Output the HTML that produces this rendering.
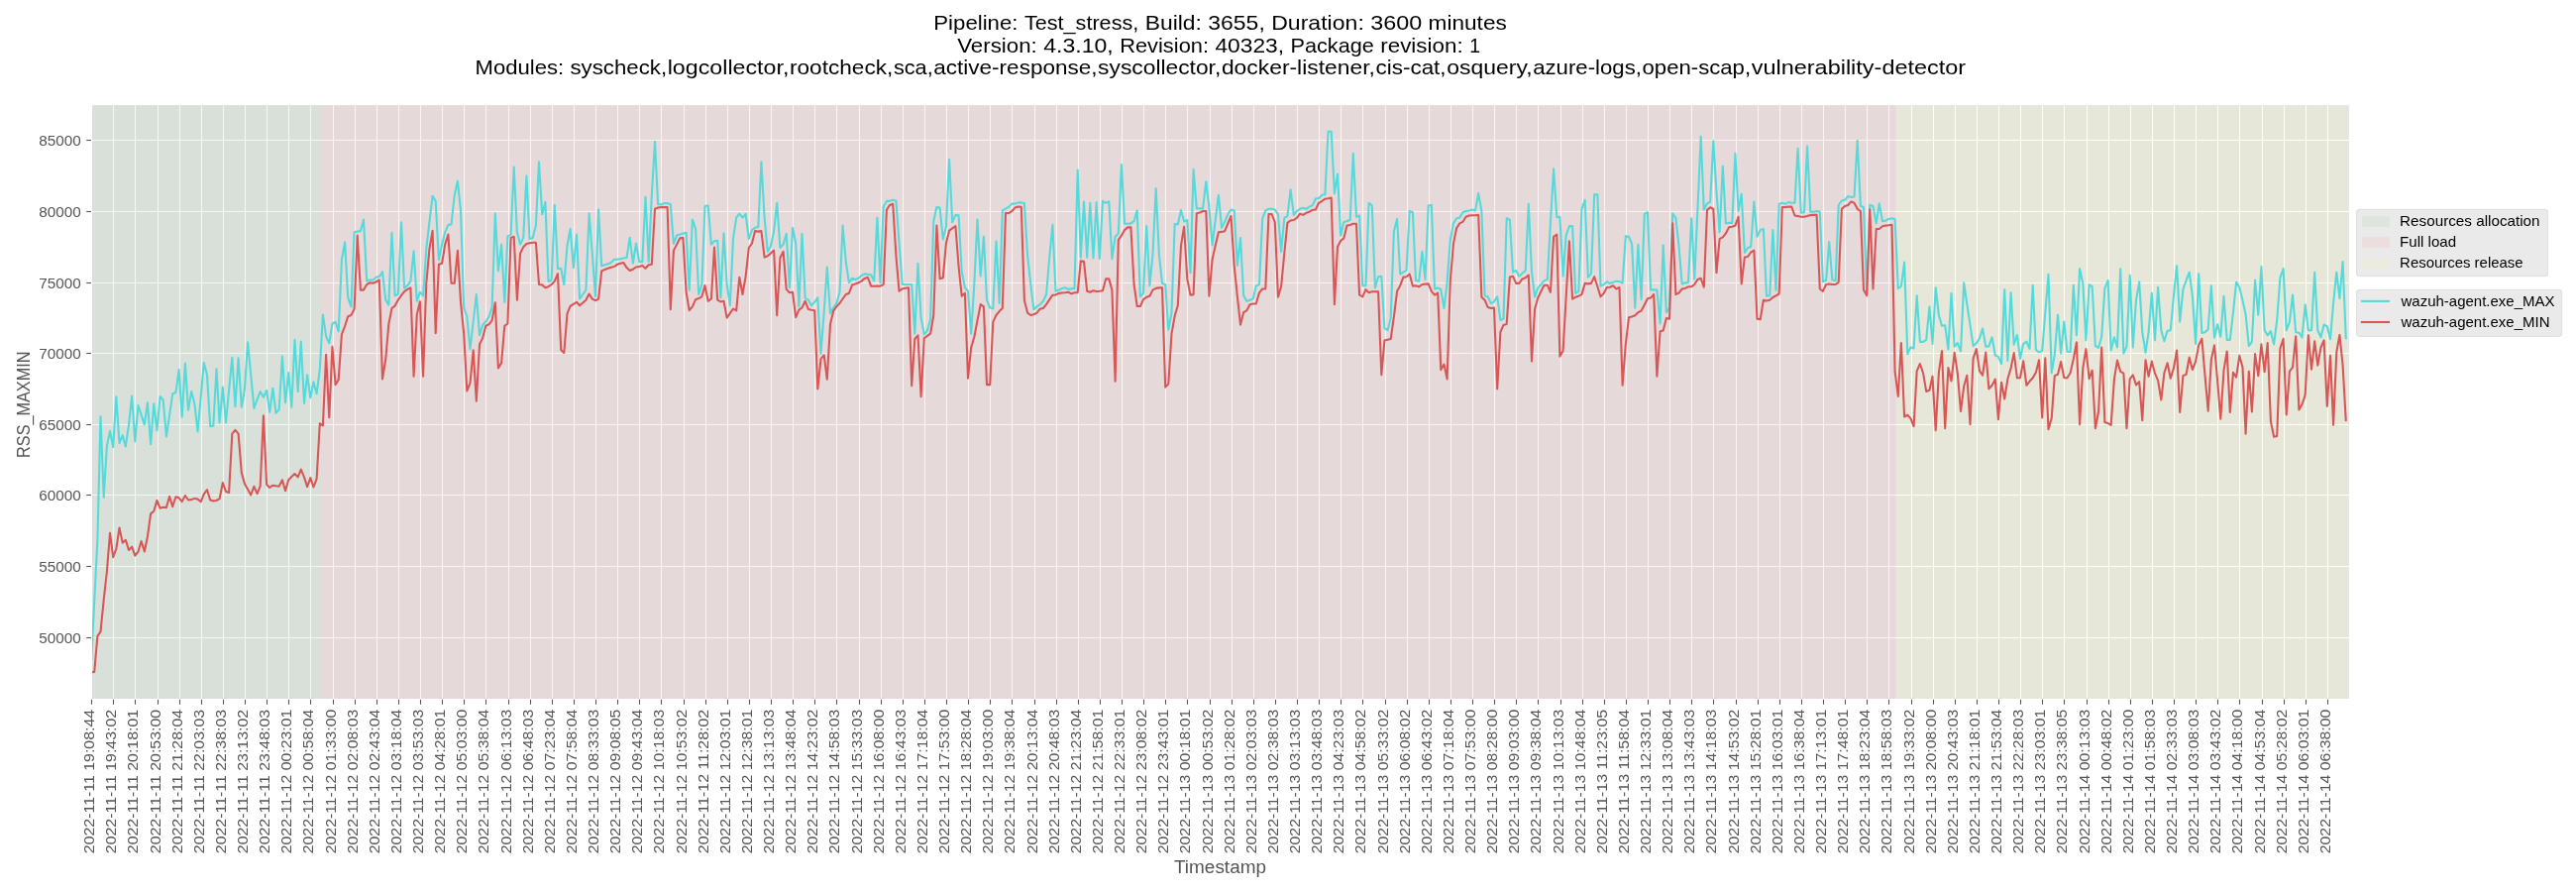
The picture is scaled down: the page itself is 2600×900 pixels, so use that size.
<!DOCTYPE html>
<html><head><meta charset="utf-8"><title>RSS_MAXMIN</title>
<style>
html,body{margin:0;padding:0;background:#fff;}
body{width:2600px;height:900px;overflow:hidden;font-family:"Liberation Sans",sans-serif;}
svg{display:block;}
text{font-family:"Liberation Sans",sans-serif;}
svg{will-change:transform;}
</style></head><body>
<svg width="2600" height="900" viewBox="0 0 2600 900">
<rect x="0" y="0" width="2600" height="900" fill="#ffffff"/>
<rect x="93.05" y="106.15" width="2277.85" height="598.85" fill="#e5e5e5"/>
<g stroke="#ffffff" stroke-width="1.1" fill="none" shape-rendering="auto">
<line x1="114.50" y1="106.15" x2="114.50" y2="705.0"/><line x1="136.50" y1="106.15" x2="136.50" y2="705.0"/><line x1="159.50" y1="106.15" x2="159.50" y2="705.0"/><line x1="181.50" y1="106.15" x2="181.50" y2="705.0"/><line x1="203.50" y1="106.15" x2="203.50" y2="705.0"/><line x1="225.50" y1="106.15" x2="225.50" y2="705.0"/><line x1="247.50" y1="106.15" x2="247.50" y2="705.0"/><line x1="269.50" y1="106.15" x2="269.50" y2="705.0"/><line x1="291.50" y1="106.15" x2="291.50" y2="705.0"/><line x1="313.50" y1="106.15" x2="313.50" y2="705.0"/><line x1="336.50" y1="106.15" x2="336.50" y2="705.0"/><line x1="358.50" y1="106.15" x2="358.50" y2="705.0"/><line x1="380.50" y1="106.15" x2="380.50" y2="705.0"/><line x1="402.50" y1="106.15" x2="402.50" y2="705.0"/><line x1="424.50" y1="106.15" x2="424.50" y2="705.0"/><line x1="446.50" y1="106.15" x2="446.50" y2="705.0"/><line x1="468.50" y1="106.15" x2="468.50" y2="705.0"/><line x1="490.50" y1="106.15" x2="490.50" y2="705.0"/><line x1="513.50" y1="106.15" x2="513.50" y2="705.0"/><line x1="535.50" y1="106.15" x2="535.50" y2="705.0"/><line x1="557.50" y1="106.15" x2="557.50" y2="705.0"/><line x1="579.50" y1="106.15" x2="579.50" y2="705.0"/><line x1="601.50" y1="106.15" x2="601.50" y2="705.0"/><line x1="623.50" y1="106.15" x2="623.50" y2="705.0"/><line x1="645.50" y1="106.15" x2="645.50" y2="705.0"/><line x1="667.50" y1="106.15" x2="667.50" y2="705.0"/><line x1="690.50" y1="106.15" x2="690.50" y2="705.0"/><line x1="712.50" y1="106.15" x2="712.50" y2="705.0"/><line x1="734.50" y1="106.15" x2="734.50" y2="705.0"/><line x1="756.50" y1="106.15" x2="756.50" y2="705.0"/><line x1="778.50" y1="106.15" x2="778.50" y2="705.0"/><line x1="800.50" y1="106.15" x2="800.50" y2="705.0"/><line x1="822.50" y1="106.15" x2="822.50" y2="705.0"/><line x1="844.50" y1="106.15" x2="844.50" y2="705.0"/><line x1="867.50" y1="106.15" x2="867.50" y2="705.0"/><line x1="889.50" y1="106.15" x2="889.50" y2="705.0"/><line x1="911.50" y1="106.15" x2="911.50" y2="705.0"/><line x1="933.50" y1="106.15" x2="933.50" y2="705.0"/><line x1="955.50" y1="106.15" x2="955.50" y2="705.0"/><line x1="977.50" y1="106.15" x2="977.50" y2="705.0"/><line x1="999.50" y1="106.15" x2="999.50" y2="705.0"/><line x1="1021.50" y1="106.15" x2="1021.50" y2="705.0"/><line x1="1044.50" y1="106.15" x2="1044.50" y2="705.0"/><line x1="1066.50" y1="106.15" x2="1066.50" y2="705.0"/><line x1="1088.50" y1="106.15" x2="1088.50" y2="705.0"/><line x1="1110.50" y1="106.15" x2="1110.50" y2="705.0"/><line x1="1132.50" y1="106.15" x2="1132.50" y2="705.0"/><line x1="1154.50" y1="106.15" x2="1154.50" y2="705.0"/><line x1="1176.50" y1="106.15" x2="1176.50" y2="705.0"/><line x1="1198.50" y1="106.15" x2="1198.50" y2="705.0"/><line x1="1221.50" y1="106.15" x2="1221.50" y2="705.0"/><line x1="1243.50" y1="106.15" x2="1243.50" y2="705.0"/><line x1="1265.50" y1="106.15" x2="1265.50" y2="705.0"/><line x1="1287.50" y1="106.15" x2="1287.50" y2="705.0"/><line x1="1309.50" y1="106.15" x2="1309.50" y2="705.0"/><line x1="1331.50" y1="106.15" x2="1331.50" y2="705.0"/><line x1="1353.50" y1="106.15" x2="1353.50" y2="705.0"/><line x1="1375.50" y1="106.15" x2="1375.50" y2="705.0"/><line x1="1398.50" y1="106.15" x2="1398.50" y2="705.0"/><line x1="1420.50" y1="106.15" x2="1420.50" y2="705.0"/><line x1="1442.50" y1="106.15" x2="1442.50" y2="705.0"/><line x1="1464.50" y1="106.15" x2="1464.50" y2="705.0"/><line x1="1486.50" y1="106.15" x2="1486.50" y2="705.0"/><line x1="1508.50" y1="106.15" x2="1508.50" y2="705.0"/><line x1="1530.50" y1="106.15" x2="1530.50" y2="705.0"/><line x1="1552.50" y1="106.15" x2="1552.50" y2="705.0"/><line x1="1575.50" y1="106.15" x2="1575.50" y2="705.0"/><line x1="1597.50" y1="106.15" x2="1597.50" y2="705.0"/><line x1="1619.50" y1="106.15" x2="1619.50" y2="705.0"/><line x1="1641.50" y1="106.15" x2="1641.50" y2="705.0"/><line x1="1663.50" y1="106.15" x2="1663.50" y2="705.0"/><line x1="1685.50" y1="106.15" x2="1685.50" y2="705.0"/><line x1="1707.50" y1="106.15" x2="1707.50" y2="705.0"/><line x1="1729.50" y1="106.15" x2="1729.50" y2="705.0"/><line x1="1752.50" y1="106.15" x2="1752.50" y2="705.0"/><line x1="1774.50" y1="106.15" x2="1774.50" y2="705.0"/><line x1="1796.50" y1="106.15" x2="1796.50" y2="705.0"/><line x1="1818.50" y1="106.15" x2="1818.50" y2="705.0"/><line x1="1840.50" y1="106.15" x2="1840.50" y2="705.0"/><line x1="1862.50" y1="106.15" x2="1862.50" y2="705.0"/><line x1="1884.50" y1="106.15" x2="1884.50" y2="705.0"/><line x1="1906.50" y1="106.15" x2="1906.50" y2="705.0"/><line x1="1929.50" y1="106.15" x2="1929.50" y2="705.0"/><line x1="1951.50" y1="106.15" x2="1951.50" y2="705.0"/><line x1="1973.50" y1="106.15" x2="1973.50" y2="705.0"/><line x1="1995.50" y1="106.15" x2="1995.50" y2="705.0"/><line x1="2017.50" y1="106.15" x2="2017.50" y2="705.0"/><line x1="2039.50" y1="106.15" x2="2039.50" y2="705.0"/><line x1="2061.50" y1="106.15" x2="2061.50" y2="705.0"/><line x1="2083.50" y1="106.15" x2="2083.50" y2="705.0"/><line x1="2106.50" y1="106.15" x2="2106.50" y2="705.0"/><line x1="2128.50" y1="106.15" x2="2128.50" y2="705.0"/><line x1="2150.50" y1="106.15" x2="2150.50" y2="705.0"/><line x1="2172.50" y1="106.15" x2="2172.50" y2="705.0"/><line x1="2194.50" y1="106.15" x2="2194.50" y2="705.0"/><line x1="2216.50" y1="106.15" x2="2216.50" y2="705.0"/><line x1="2238.50" y1="106.15" x2="2238.50" y2="705.0"/><line x1="2260.50" y1="106.15" x2="2260.50" y2="705.0"/><line x1="2283.50" y1="106.15" x2="2283.50" y2="705.0"/><line x1="2305.50" y1="106.15" x2="2305.50" y2="705.0"/><line x1="2327.50" y1="106.15" x2="2327.50" y2="705.0"/><line x1="2349.50" y1="106.15" x2="2349.50" y2="705.0"/><line x1="93.05" y1="643.50" x2="2370.9" y2="643.50"/><line x1="93.05" y1="571.50" x2="2370.9" y2="571.50"/><line x1="93.05" y1="499.50" x2="2370.9" y2="499.50"/><line x1="93.05" y1="428.50" x2="2370.9" y2="428.50"/><line x1="93.05" y1="356.50" x2="2370.9" y2="356.50"/><line x1="93.05" y1="285.50" x2="2370.9" y2="285.50"/><line x1="93.05" y1="213.50" x2="2370.9" y2="213.50"/><line x1="93.05" y1="141.50" x2="2370.9" y2="141.50"/>
</g>
<rect x="93.05" y="106.15" width="230.35" height="598.85" fill="#008000" fill-opacity="0.05"/>
<rect x="323.4" y="106.15" width="1590.00" height="598.85" fill="#ff0000" fill-opacity="0.05"/>
<rect x="1913.4" y="106.15" width="455.20" height="598.85" fill="#ffff00" fill-opacity="0.05"/>
<clipPath id="cp"><rect x="93.05" y="106.15" width="2277.85" height="598.85"/></clipPath>
<g clip-path="url(#cp)">
<polyline points="92.0,670.0 95.2,607.0 98.4,544.6 101.5,420.4 104.7,501.6 107.9,450.0 111.0,435.0 114.2,451.1 117.3,400.2 120.5,447.1 123.7,439.2 126.8,450.5 130.0,428.7 133.1,399.5 136.3,445.5 139.5,409.0 142.6,418.6 145.8,428.3 148.9,406.3 152.1,448.2 155.3,407.4 158.4,434.3 161.6,400.0 164.7,403.6 167.9,440.4 171.1,418.8 174.2,397.3 177.4,396.2 180.6,373.1 183.7,420.8 186.9,366.6 190.0,413.7 193.2,395.1 196.4,407.4 199.5,435.4 202.7,400.7 205.8,365.9 209.0,378.2 212.2,430.3 215.3,429.8 218.5,372.2 221.6,426.5 224.8,390.6 228.0,426.5 231.1,393.9 234.3,360.7 237.4,410.3 240.6,361.4 243.8,410.8 246.9,392.8 250.1,345.3 253.2,378.2 256.4,411.9 259.6,402.9 262.7,395.1 265.9,400.7 269.1,393.9 272.2,415.9 275.4,391.7 278.5,416.8 281.7,413.0 284.9,359.6 288.0,406.3 291.2,376.0 294.3,410.8 297.5,342.8 300.7,395.1 303.8,344.6 307.0,406.9 310.1,378.2 313.3,401.3 316.5,385.4 319.6,397.3 322.8,372.6 325.9,317.6 329.1,339.2 332.3,346.3 335.4,326.7 338.6,324.8 341.7,334.5 344.9,262.3 348.1,244.3 351.2,300.4 354.4,309.4 357.6,234.3 360.7,233.6 363.9,233.1 367.0,221.5 370.2,283.6 373.4,282.5 376.5,282.5 379.7,279.8 382.8,279.1 386.0,274.2 389.2,302.6 392.3,307.6 395.5,234.7 398.6,298.2 401.8,297.0 405.0,224.2 408.1,290.8 411.3,288.1 414.4,283.6 417.6,253.3 420.8,303.8 423.9,294.8 427.1,298.2 430.2,252.2 433.4,224.2 436.6,197.7 439.7,202.9 442.9,262.3 446.1,246.6 449.2,234.3 452.4,226.9 455.5,226.4 458.7,197.3 461.9,182.7 465.0,213.0 468.2,310.5 471.3,319.5 474.5,352.1 477.7,324.5 480.8,297.0 484.0,338.1 487.1,328.0 490.3,324.5 493.5,319.5 496.6,310.2 499.8,215.2 502.9,273.5 506.1,246.6 509.3,304.9 512.4,238.7 515.6,236.5 518.7,168.6 521.9,234.3 525.1,246.6 528.2,239.9 531.4,177.5 534.5,241.0 537.7,239.9 540.9,227.5 544.0,163.2 547.2,216.3 550.4,204.0 553.5,284.3 556.7,282.5 559.8,206.9 563.0,271.3 566.2,270.8 569.3,287.0 572.5,247.7 575.6,230.9 578.8,270.1 582.0,236.5 585.1,301.5 588.3,297.0 591.4,292.6 594.6,215.2 597.8,255.6 600.9,299.3 604.1,211.2 607.2,268.3 610.4,267.2 613.6,266.3 616.7,265.0 619.9,261.8 623.0,261.8 626.2,261.2 629.4,260.5 632.5,260.0 635.7,239.9 638.9,265.7 642.0,245.5 645.2,264.1 648.3,264.1 651.5,198.8 654.7,263.9 657.8,197.3 661.0,142.8 664.1,206.2 667.3,206.2 670.5,205.1 673.6,205.1 676.8,206.2 679.9,245.9 683.1,237.6 686.3,236.5 689.4,235.4 692.6,234.7 695.7,292.6 698.9,221.5 702.1,230.9 705.2,297.0 708.4,287.0 711.5,208.0 714.7,207.4 717.9,246.6 721.0,243.2 724.2,242.8 727.4,300.4 730.5,235.4 733.7,287.0 736.8,308.3 740.0,241.0 743.2,219.7 746.3,215.7 749.5,219.7 752.6,215.9 755.8,241.0 759.0,232.0 762.1,229.8 765.3,229.1 768.4,163.2 771.6,219.7 774.8,253.8 777.9,248.8 781.1,233.1 784.2,204.7 787.4,250.0 790.6,246.6 793.7,235.8 796.9,290.3 800.0,229.8 803.2,245.5 806.4,309.4 809.5,235.8 812.7,300.9 815.9,302.6 819.0,308.3 822.2,304.9 825.3,300.4 828.5,356.8 831.7,314.8 834.8,269.5 838.0,316.1 841.1,310.5 844.3,306.0 847.5,294.8 850.6,227.5 853.8,264.5 856.9,285.2 860.1,280.7 863.3,282.0 866.4,280.7 869.6,278.0 872.7,276.4 875.9,276.9 879.1,277.3 882.2,283.6 885.4,219.7 888.5,285.2 891.7,208.5 894.9,202.9 898.0,202.9 901.2,201.7 904.4,202.4 907.5,245.0 910.7,287.0 913.8,287.0 917.0,287.0 920.2,287.0 923.3,336.6 926.5,265.7 929.6,320.6 932.8,337.4 936.0,333.5 939.1,322.6 942.3,223.0 945.4,209.1 948.6,209.6 951.8,241.4 954.9,228.7 958.1,160.9 961.2,224.2 964.4,217.0 967.6,217.4 970.7,273.5 973.9,290.3 977.0,293.7 980.2,336.6 983.4,285.3 986.5,221.5 989.7,278.4 992.9,238.7 996.0,302.6 999.2,310.5 1002.3,311.2 1005.5,243.2 1008.7,306.0 1011.8,212.5 1015.0,210.7 1018.1,208.9 1021.3,205.6 1024.5,205.6 1027.6,204.4 1030.8,204.4 1033.9,205.1 1037.1,257.8 1040.3,287.0 1043.4,312.1 1046.6,309.4 1049.7,307.1 1052.9,303.8 1056.1,297.0 1059.2,260.0 1062.4,226.9 1065.5,293.7 1068.7,292.6 1071.9,291.0 1075.0,290.3 1078.2,291.9 1081.4,291.4 1084.5,291.0 1087.7,171.5 1090.8,259.6 1094.0,203.5 1097.2,259.6 1100.3,204.7 1103.5,260.5 1106.6,204.0 1109.8,261.2 1113.0,202.9 1116.1,204.8 1119.3,203.4 1122.4,261.3 1125.6,238.8 1128.8,235.5 1131.9,166.0 1135.1,225.8 1138.2,225.8 1141.4,225.4 1144.6,223.1 1147.7,212.4 1150.9,299.4 1154.0,296.0 1157.2,228.1 1160.4,288.2 1163.5,256.8 1166.7,190.2 1169.9,256.8 1173.0,285.9 1176.2,287.0 1179.3,332.7 1182.5,315.6 1185.7,225.8 1188.8,226.5 1192.0,211.9 1195.1,223.6 1198.3,222.0 1201.5,275.2 1204.6,171.1 1207.8,210.4 1210.9,210.4 1214.1,210.4 1217.3,183.2 1220.4,209.7 1223.6,247.4 1226.7,222.0 1229.9,196.9 1233.1,229.9 1236.2,223.6 1239.4,216.0 1242.5,211.5 1245.7,212.4 1248.9,268.0 1252.0,240.0 1255.2,298.3 1258.4,303.9 1261.5,302.7 1264.7,301.6 1267.8,288.6 1271.0,287.0 1274.2,220.9 1277.3,212.4 1280.5,210.8 1283.6,210.8 1286.8,211.5 1290.0,216.4 1293.1,253.9 1296.3,219.8 1299.4,218.2 1302.6,191.3 1305.8,216.9 1308.9,213.0 1312.1,210.8 1315.2,209.7 1318.4,210.8 1321.6,208.6 1324.7,207.4 1327.9,200.3 1331.0,200.3 1334.2,196.7 1337.4,196.2 1340.5,132.8 1343.7,132.8 1346.9,195.1 1350.0,175.6 1353.2,237.7 1356.3,224.3 1359.5,223.1 1362.7,222.0 1365.8,154.8 1369.0,218.7 1372.1,217.5 1375.3,288.2 1378.5,288.2 1381.6,204.8 1384.8,207.4 1387.9,290.4 1391.1,279.2 1394.3,278.7 1397.4,331.1 1400.6,333.2 1403.7,321.1 1406.9,233.2 1410.1,220.9 1413.2,276.5 1416.4,274.7 1419.5,272.9 1422.7,213.0 1425.9,214.2 1429.0,283.0 1432.2,283.7 1435.4,253.9 1438.5,281.9 1441.7,207.4 1444.8,206.8 1448.0,291.5 1451.2,290.4 1454.3,292.0 1457.5,311.0 1460.6,284.8 1463.8,242.2 1467.0,225.4 1470.1,220.2 1473.3,219.8 1476.4,214.2 1479.6,213.0 1482.8,212.4 1485.9,211.5 1489.1,212.4 1492.2,195.1 1495.4,213.0 1498.6,298.3 1501.7,299.4 1504.9,306.1 1508.0,304.3 1511.2,299.4 1514.4,322.9 1517.5,321.8 1520.7,220.2 1523.9,222.0 1527.0,274.7 1530.2,272.9 1533.3,278.7 1536.5,275.8 1539.7,273.1 1542.8,205.9 1546.0,274.7 1549.1,299.4 1552.3,290.4 1555.5,287.0 1558.6,283.2 1561.8,281.9 1564.9,225.4 1568.1,170.4 1571.3,219.1 1574.4,218.7 1577.6,278.7 1580.7,237.7 1583.9,228.1 1587.1,228.1 1590.2,296.0 1593.4,293.8 1596.5,210.8 1599.7,201.8 1602.9,279.6 1606.0,275.8 1609.2,196.2 1612.4,196.2 1615.5,288.6 1618.7,287.0 1621.8,284.3 1625.0,285.9 1628.2,284.8 1631.3,283.7 1634.5,284.1 1637.6,285.5 1640.8,238.4 1644.0,238.8 1647.1,246.0 1650.3,310.6 1653.4,246.7 1656.6,302.1 1659.8,216.0 1662.9,214.2 1666.1,292.6 1669.2,292.2 1672.4,292.6 1675.6,326.5 1678.7,247.4 1681.9,315.1 1685.0,310.6 1688.2,215.3 1691.4,219.8 1694.5,247.8 1697.7,286.4 1700.9,285.5 1704.0,284.8 1707.2,220.2 1710.3,281.4 1713.5,209.7 1716.7,137.9 1719.8,211.5 1723.0,205.2 1726.1,204.1 1729.3,142.4 1732.5,194.0 1735.6,234.3 1738.8,167.8 1741.9,225.4 1745.1,224.7 1748.3,224.9 1751.4,154.8 1754.6,213.0 1757.7,195.8 1760.9,255.0 1764.1,250.0 1767.2,248.9 1770.4,203.6 1773.5,238.8 1776.7,232.1 1779.9,231.0 1783.0,298.7 1786.2,298.3 1789.4,232.1 1792.5,292.6 1795.7,205.7 1798.8,204.8 1802.0,205.7 1805.2,204.1 1808.3,204.8 1811.5,204.8 1814.6,149.8 1817.8,214.6 1821.0,214.2 1824.1,147.6 1827.3,213.7 1830.4,213.7 1833.6,213.0 1836.8,213.7 1839.9,284.1 1843.1,283.0 1846.2,244.0 1849.4,282.6 1852.6,283.2 1855.7,207.0 1858.9,202.5 1862.0,201.8 1865.2,198.0 1868.4,198.9 1871.5,198.5 1874.7,142.0 1877.9,207.9 1881.0,209.0 1884.2,296.0 1887.3,206.8 1890.5,207.9 1893.7,225.4 1896.8,205.2 1900.0,223.1 1903.1,222.7 1906.3,220.9 1909.5,220.2 1912.6,221.2 1915.8,291.3 1918.9,288.8 1922.1,264.6 1925.3,357.1 1928.4,350.4 1931.6,351.4 1934.7,298.3 1937.9,344.9 1941.1,344.9 1944.2,342.9 1947.4,309.6 1950.5,347.0 1953.7,290.2 1956.9,318.1 1960.0,328.8 1963.2,328.2 1966.4,352.4 1969.5,295.9 1972.7,349.8 1975.8,346.0 1979.0,354.4 1982.2,285.4 1985.3,306.6 1988.5,327.8 1991.6,349.0 1994.8,346.4 1998.0,341.3 2001.1,331.6 2004.3,349.8 2007.4,349.4 2010.6,340.3 2013.8,358.5 2016.9,359.9 2020.1,367.1 2023.2,292.3 2026.4,363.9 2029.6,295.3 2032.7,347.8 2035.9,337.9 2039.0,361.9 2042.2,347.0 2045.4,344.7 2048.5,351.8 2051.7,287.8 2054.9,353.0 2058.0,355.4 2061.2,354.0 2064.3,315.5 2067.5,276.7 2070.7,376.3 2073.8,357.5 2077.0,317.7 2080.1,356.4 2083.3,324.6 2086.5,355.0 2089.6,355.0 2092.8,287.8 2095.9,338.3 2099.1,271.1 2102.3,285.8 2105.4,343.3 2108.6,287.2 2111.7,289.2 2114.9,349.0 2118.1,350.8 2121.2,339.7 2124.4,290.9 2127.6,282.8 2130.7,353.4 2133.9,340.3 2137.0,350.4 2140.2,271.3 2143.4,356.4 2146.5,349.8 2149.7,277.7 2152.8,350.4 2156.0,303.0 2159.2,284.4 2162.3,335.3 2165.5,355.8 2168.6,335.3 2171.8,295.9 2175.0,343.3 2178.1,289.8 2181.3,333.2 2184.4,344.3 2187.6,333.8 2190.8,333.2 2193.9,298.9 2197.1,268.3 2200.2,324.6 2203.4,291.9 2206.6,282.8 2209.7,274.7 2212.9,298.9 2216.1,347.0 2219.2,276.3 2222.4,335.9 2225.5,335.3 2228.7,332.2 2231.9,288.4 2235.0,340.7 2238.2,327.2 2241.3,339.7 2244.5,298.9 2247.7,342.9 2250.8,342.9 2254.0,315.1 2257.1,284.8 2260.3,289.8 2263.5,303.0 2266.6,317.1 2269.8,349.0 2272.9,344.9 2276.1,282.8 2279.3,317.7 2282.4,269.1 2285.6,333.2 2288.7,338.3 2291.9,334.2 2295.1,347.4 2298.2,323.1 2301.4,279.8 2304.6,271.1 2307.7,333.2 2310.9,325.2 2314.0,297.5 2317.2,335.3 2320.4,335.7 2323.5,340.3 2326.7,307.4 2329.8,333.2 2333.0,333.2 2336.2,274.7 2339.3,333.2 2342.5,340.3 2345.6,327.6 2348.8,329.2 2352.0,342.3 2355.1,306.0 2358.3,274.7 2361.4,300.9 2364.6,264.0 2367.8,342.3" fill="none" stroke="#54dada" stroke-width="2.08" stroke-linejoin="round" stroke-linecap="butt"/>
<polyline points="92.0,678.3 95.2,677.9 98.4,641.8 101.5,637.3 104.7,605.4 107.9,576.3 111.0,537.7 114.2,562.1 117.3,553.8 120.5,532.5 123.7,547.6 126.8,544.9 130.0,555.0 133.1,551.6 136.3,560.6 139.5,556.5 142.6,546.0 145.8,556.5 148.9,541.5 152.1,518.4 155.3,515.7 158.4,504.9 161.6,512.8 164.7,511.7 167.9,512.1 171.1,500.9 174.2,511.2 177.4,501.2 180.6,502.3 183.7,506.1 186.9,500.0 190.0,504.5 193.2,504.1 196.4,502.9 199.5,503.6 202.7,506.3 205.8,498.7 209.0,494.2 212.2,504.5 215.3,505.4 218.5,505.0 221.6,503.2 224.8,487.0 228.0,496.0 231.1,497.1 234.3,437.7 237.4,433.9 240.6,437.7 243.8,476.9 246.9,488.1 250.1,493.8 253.2,499.4 256.4,490.8 259.6,498.2 262.7,490.4 265.9,419.3 269.1,488.8 272.2,492.0 275.4,489.7 278.5,490.2 281.7,490.6 284.9,484.3 288.0,495.3 291.2,484.3 294.3,481.0 297.5,478.0 300.7,481.4 303.8,473.6 307.0,481.4 310.1,491.1 313.3,482.1 316.5,491.5 319.6,483.2 322.8,427.2 325.9,429.5 329.1,357.8 332.3,421.2 335.4,349.9 338.6,388.2 341.7,382.9 344.9,337.4 348.1,329.0 351.2,319.2 354.4,318.1 357.6,311.8 360.7,237.6 363.9,292.6 367.0,292.6 370.2,287.0 373.4,285.2 376.5,285.8 379.7,284.3 382.8,282.5 386.0,382.4 389.2,363.0 392.3,327.3 395.5,311.0 398.6,308.6 401.8,302.7 405.0,298.2 408.1,294.1 411.3,291.9 414.4,290.3 417.6,379.8 420.8,317.2 423.9,304.3 427.1,379.8 430.2,287.0 433.4,251.1 436.6,232.7 439.7,336.3 442.9,266.8 446.1,265.7 449.2,246.6 452.4,236.5 455.5,285.8 458.7,285.8 461.9,252.9 465.0,304.9 468.2,336.6 471.3,394.5 474.5,386.3 477.7,353.4 480.8,404.6 484.0,347.5 487.1,341.2 490.3,328.8 493.5,327.3 496.6,323.4 499.8,305.2 502.9,371.5 506.1,366.1 509.3,328.8 512.4,326.5 515.6,239.9 518.7,238.7 521.9,302.6 525.1,255.6 528.2,249.3 531.4,246.1 534.5,245.2 537.7,244.8 540.9,244.8 544.0,287.0 547.2,287.4 550.4,290.3 553.5,289.2 556.7,287.0 559.8,283.6 563.0,276.2 566.2,352.9 569.3,356.0 572.5,316.4 575.6,308.9 578.8,306.8 582.0,304.8 585.1,308.3 588.3,305.5 591.4,302.7 594.6,296.5 597.8,301.6 600.9,303.2 604.1,301.6 607.2,273.5 610.4,271.9 613.6,270.8 616.7,269.7 619.9,269.0 623.0,266.8 626.2,265.7 629.4,265.0 632.5,270.1 635.7,273.0 638.9,271.7 642.0,269.5 645.2,269.0 648.3,267.9 651.5,270.8 654.7,267.2 657.8,266.8 661.0,210.7 664.1,209.6 667.3,208.9 670.5,209.1 673.6,209.1 676.8,312.1 679.9,252.9 683.1,246.6 686.3,240.3 689.4,239.9 692.6,294.8 695.7,313.2 698.9,309.4 702.1,302.2 705.2,301.1 708.4,299.3 711.5,288.1 714.7,303.8 717.9,301.5 721.0,249.5 724.2,302.6 727.4,304.4 730.5,303.8 733.7,320.6 736.8,316.1 740.0,311.6 743.2,313.4 746.3,279.8 749.5,297.0 752.6,279.1 755.8,250.0 759.0,245.5 762.1,233.1 765.3,233.6 768.4,233.1 771.6,259.6 774.8,258.3 777.9,255.6 781.1,252.6 784.2,318.3 787.4,260.0 790.6,253.8 793.7,291.9 796.9,295.2 800.0,294.8 803.2,320.1 806.4,312.7 809.5,310.5 812.7,303.8 815.9,312.1 819.0,312.7 822.2,313.2 825.3,392.5 828.5,362.2 831.7,358.3 834.8,382.7 838.0,327.3 841.1,313.9 844.3,309.4 847.5,306.0 850.6,301.5 853.8,297.0 856.9,295.9 860.1,287.6 863.3,286.5 866.4,285.2 869.6,283.6 872.7,280.9 875.9,279.8 879.1,288.7 882.2,288.7 885.4,288.5 888.5,288.7 891.7,287.0 894.9,211.8 898.0,206.9 901.2,205.8 904.4,257.8 907.5,293.7 910.7,291.4 913.8,290.8 917.0,290.3 920.2,389.1 923.3,342.0 926.5,338.4 929.6,400.2 932.8,341.2 936.0,338.9 939.1,336.6 942.3,318.0 945.4,227.5 948.6,281.3 951.8,280.2 954.9,245.5 958.1,232.7 961.2,230.4 964.4,228.0 967.6,269.0 970.7,298.6 973.9,295.9 977.0,381.6 980.2,350.6 983.4,339.7 986.5,323.4 989.7,307.1 992.9,309.4 996.0,388.1 999.2,388.1 1002.3,324.9 1005.5,318.0 1008.7,314.1 1011.8,311.0 1015.0,214.8 1018.1,215.2 1021.3,213.0 1024.5,209.6 1027.6,208.5 1030.8,208.9 1033.9,303.1 1037.1,315.6 1040.3,318.0 1043.4,317.2 1046.6,315.6 1049.7,311.7 1052.9,311.0 1056.1,307.1 1059.2,302.4 1062.4,297.7 1065.5,297.5 1068.7,295.9 1071.9,295.5 1075.0,295.2 1078.2,294.8 1081.4,296.4 1084.5,295.2 1087.7,295.2 1090.8,263.4 1094.0,263.9 1097.2,293.7 1100.3,294.8 1103.5,293.2 1106.6,294.1 1109.8,293.7 1113.0,293.2 1116.1,281.4 1119.3,281.4 1122.4,292.6 1125.6,384.7 1128.8,242.2 1131.9,237.7 1135.1,232.1 1138.2,229.4 1141.4,229.2 1144.6,287.0 1147.7,309.0 1150.9,309.0 1154.0,302.1 1157.2,299.8 1160.4,298.7 1163.5,292.6 1166.7,290.9 1169.9,290.4 1173.0,290.4 1176.2,390.6 1179.3,387.5 1182.5,336.6 1185.7,318.7 1188.8,308.3 1192.0,247.8 1195.1,228.7 1198.3,281.4 1201.5,297.6 1204.6,297.1 1207.8,215.3 1210.9,214.6 1214.1,213.0 1217.3,213.0 1220.4,298.7 1223.6,261.7 1226.7,247.8 1229.9,234.3 1233.1,233.9 1236.2,233.2 1239.4,225.4 1242.5,218.0 1245.7,268.0 1248.9,299.4 1252.0,327.6 1255.2,315.1 1258.4,313.3 1261.5,307.2 1264.7,306.5 1267.8,306.5 1271.0,295.3 1274.2,291.5 1277.3,291.5 1280.5,216.0 1283.6,216.0 1286.8,224.3 1290.0,299.8 1293.1,289.3 1296.3,255.7 1299.4,224.9 1302.6,222.5 1305.8,222.0 1308.9,219.8 1312.1,215.7 1315.2,216.9 1318.4,214.8 1321.6,213.7 1324.7,211.9 1327.9,211.5 1331.0,204.8 1334.2,203.0 1337.4,200.7 1340.5,200.3 1343.7,199.6 1346.9,307.2 1350.0,248.9 1353.2,242.9 1356.3,240.4 1359.5,227.6 1362.7,227.0 1365.8,225.8 1369.0,225.8 1372.1,297.6 1375.3,299.4 1378.5,292.2 1381.6,295.3 1384.8,294.2 1387.9,294.2 1391.1,294.4 1394.3,378.2 1397.4,343.6 1400.6,342.8 1403.7,342.0 1406.9,319.5 1410.1,293.8 1413.2,288.2 1416.4,279.6 1419.5,279.2 1422.7,276.5 1425.9,288.6 1429.0,288.2 1432.2,289.3 1435.4,287.0 1438.5,286.6 1441.7,286.4 1444.8,293.8 1448.0,297.6 1451.2,295.6 1454.3,373.1 1457.5,367.6 1460.6,382.4 1463.8,283.7 1467.0,245.6 1470.1,230.3 1473.3,225.4 1476.4,223.8 1479.6,218.7 1482.8,217.5 1485.9,217.3 1489.1,217.3 1492.2,216.9 1495.4,299.8 1498.6,302.7 1501.7,310.1 1504.9,311.0 1508.0,310.6 1511.2,392.5 1514.4,335.0 1517.5,328.0 1520.7,327.0 1523.9,279.6 1527.0,278.7 1530.2,285.9 1533.3,285.9 1536.5,281.4 1539.7,280.3 1542.8,277.6 1546.0,364.5 1549.1,311.7 1552.3,300.5 1555.5,293.8 1558.6,287.7 1561.8,287.7 1564.9,294.9 1568.1,238.8 1571.3,236.6 1574.4,359.6 1577.6,354.0 1580.7,299.3 1583.9,243.3 1587.1,301.6 1590.2,299.8 1593.4,298.7 1596.5,297.1 1599.7,285.9 1602.9,286.4 1606.0,285.9 1609.2,279.2 1612.4,289.3 1615.5,299.4 1618.7,296.0 1621.8,290.0 1625.0,289.7 1628.2,288.2 1631.3,291.5 1634.5,290.0 1637.6,388.6 1640.8,347.5 1644.0,320.3 1647.1,319.5 1650.3,318.3 1653.4,315.2 1656.6,313.6 1659.8,307.4 1662.9,301.2 1666.1,300.6 1669.2,297.0 1672.4,379.8 1675.6,334.3 1678.7,333.5 1681.9,321.1 1685.0,321.8 1688.2,225.4 1691.4,297.1 1694.5,295.6 1697.7,291.5 1700.9,290.9 1704.0,289.3 1707.2,289.3 1710.3,287.0 1713.5,281.9 1716.7,280.8 1719.8,289.7 1723.0,211.9 1726.1,209.2 1729.3,210.8 1732.5,275.2 1735.6,241.1 1738.8,239.3 1741.9,235.5 1745.1,229.2 1748.3,228.7 1751.4,227.6 1754.6,218.7 1757.7,286.4 1760.9,259.5 1764.1,259.0 1767.2,254.5 1770.4,252.7 1773.5,321.8 1776.7,322.3 1779.9,302.7 1783.0,303.4 1786.2,302.7 1789.4,300.0 1792.5,298.3 1795.7,296.5 1798.8,209.0 1802.0,209.0 1805.2,208.6 1808.3,208.6 1811.5,217.5 1814.6,218.0 1817.8,218.7 1821.0,218.7 1824.1,218.0 1827.3,217.1 1830.4,216.9 1833.6,216.9 1836.8,291.5 1839.9,293.8 1843.1,287.0 1846.2,286.4 1849.4,287.0 1852.6,287.0 1855.7,284.8 1858.9,210.8 1862.0,208.1 1865.2,207.0 1868.4,203.4 1871.5,204.8 1874.7,210.8 1877.9,213.0 1881.0,292.6 1884.2,298.3 1887.3,211.3 1890.5,291.5 1893.7,231.0 1896.8,231.0 1900.0,228.3 1903.1,227.6 1906.3,227.2 1909.5,226.7 1912.6,374.7 1915.8,399.9 1918.9,346.0 1922.1,420.5 1925.3,418.7 1928.4,422.1 1931.6,430.2 1934.7,374.3 1937.9,367.0 1941.1,376.7 1944.2,394.9 1947.4,393.8 1950.5,379.7 1953.7,434.2 1956.9,375.7 1960.0,354.1 1963.2,432.2 1966.4,371.0 1969.5,384.4 1972.7,355.9 1975.8,376.7 1979.0,415.0 1982.2,389.8 1985.3,378.7 1988.5,428.2 1991.6,361.6 1994.8,352.1 1998.0,374.3 2001.1,378.7 2004.3,355.5 2007.4,392.4 2010.6,388.8 2013.8,382.7 2016.9,423.1 2020.1,385.8 2023.2,402.5 2026.4,382.3 2029.6,371.6 2032.7,356.1 2035.9,381.3 2039.0,381.1 2042.2,364.2 2045.4,388.8 2048.5,384.8 2051.7,381.3 2054.9,375.7 2058.0,363.2 2061.2,421.5 2064.3,361.2 2067.5,433.2 2070.7,422.1 2073.8,379.1 2077.0,377.7 2080.1,365.0 2083.3,381.1 2086.5,381.3 2089.6,376.3 2092.8,362.2 2095.9,345.4 2099.1,428.2 2102.3,371.6 2105.4,352.1 2108.6,382.1 2111.7,373.7 2114.9,432.2 2118.1,415.0 2121.2,350.5 2124.4,426.1 2127.6,427.1 2130.7,428.8 2133.9,382.7 2137.0,363.6 2140.2,374.9 2143.4,376.7 2146.5,432.2 2149.7,382.3 2152.8,378.3 2156.0,388.4 2159.2,385.2 2162.3,424.1 2165.5,363.2 2168.6,379.7 2171.8,364.6 2175.0,376.7 2178.1,383.8 2181.3,403.5 2184.4,376.3 2187.6,366.2 2190.8,381.7 2193.9,371.6 2197.1,353.5 2200.2,416.0 2203.4,379.1 2206.6,377.7 2209.7,360.5 2212.9,373.1 2216.1,364.6 2219.2,348.4 2222.4,341.8 2225.5,378.7 2228.7,414.6 2231.9,362.6 2235.0,348.4 2238.2,384.8 2241.3,422.7 2244.5,373.7 2247.7,354.5 2250.8,416.0 2254.0,375.7 2257.1,380.7 2260.3,358.9 2263.5,370.6 2266.6,437.8 2269.8,374.7 2272.9,415.4 2276.1,357.1 2279.3,379.1 2282.4,347.4 2285.6,375.1 2288.7,346.0 2291.9,425.1 2295.1,440.7 2298.2,439.9 2301.4,351.5 2304.6,341.8 2307.7,418.5 2310.9,374.7 2314.0,370.6 2317.2,339.4 2320.4,413.4 2323.5,408.0 2326.7,398.3 2329.8,338.3 2333.0,372.7 2336.2,344.4 2339.3,368.6 2342.5,350.5 2345.6,343.4 2348.8,410.0 2352.0,358.9 2355.1,428.6 2358.3,355.5 2361.4,337.9 2364.6,368.6 2367.8,425.1" fill="none" stroke="#d95656" stroke-width="2.08" stroke-linejoin="round" stroke-linecap="butt"/>
</g>
<g stroke="#555555" stroke-width="1.1">
<line x1="92.50" y1="705.90" x2="92.50" y2="710.70"/><line x1="114.50" y1="705.90" x2="114.50" y2="710.70"/><line x1="136.50" y1="705.90" x2="136.50" y2="710.70"/><line x1="159.50" y1="705.90" x2="159.50" y2="710.70"/><line x1="181.50" y1="705.90" x2="181.50" y2="710.70"/><line x1="203.50" y1="705.90" x2="203.50" y2="710.70"/><line x1="225.50" y1="705.90" x2="225.50" y2="710.70"/><line x1="247.50" y1="705.90" x2="247.50" y2="710.70"/><line x1="269.50" y1="705.90" x2="269.50" y2="710.70"/><line x1="291.50" y1="705.90" x2="291.50" y2="710.70"/><line x1="313.50" y1="705.90" x2="313.50" y2="710.70"/><line x1="336.50" y1="705.90" x2="336.50" y2="710.70"/><line x1="358.50" y1="705.90" x2="358.50" y2="710.70"/><line x1="380.50" y1="705.90" x2="380.50" y2="710.70"/><line x1="402.50" y1="705.90" x2="402.50" y2="710.70"/><line x1="424.50" y1="705.90" x2="424.50" y2="710.70"/><line x1="446.50" y1="705.90" x2="446.50" y2="710.70"/><line x1="468.50" y1="705.90" x2="468.50" y2="710.70"/><line x1="490.50" y1="705.90" x2="490.50" y2="710.70"/><line x1="513.50" y1="705.90" x2="513.50" y2="710.70"/><line x1="535.50" y1="705.90" x2="535.50" y2="710.70"/><line x1="557.50" y1="705.90" x2="557.50" y2="710.70"/><line x1="579.50" y1="705.90" x2="579.50" y2="710.70"/><line x1="601.50" y1="705.90" x2="601.50" y2="710.70"/><line x1="623.50" y1="705.90" x2="623.50" y2="710.70"/><line x1="645.50" y1="705.90" x2="645.50" y2="710.70"/><line x1="667.50" y1="705.90" x2="667.50" y2="710.70"/><line x1="690.50" y1="705.90" x2="690.50" y2="710.70"/><line x1="712.50" y1="705.90" x2="712.50" y2="710.70"/><line x1="734.50" y1="705.90" x2="734.50" y2="710.70"/><line x1="756.50" y1="705.90" x2="756.50" y2="710.70"/><line x1="778.50" y1="705.90" x2="778.50" y2="710.70"/><line x1="800.50" y1="705.90" x2="800.50" y2="710.70"/><line x1="822.50" y1="705.90" x2="822.50" y2="710.70"/><line x1="844.50" y1="705.90" x2="844.50" y2="710.70"/><line x1="867.50" y1="705.90" x2="867.50" y2="710.70"/><line x1="889.50" y1="705.90" x2="889.50" y2="710.70"/><line x1="911.50" y1="705.90" x2="911.50" y2="710.70"/><line x1="933.50" y1="705.90" x2="933.50" y2="710.70"/><line x1="955.50" y1="705.90" x2="955.50" y2="710.70"/><line x1="977.50" y1="705.90" x2="977.50" y2="710.70"/><line x1="999.50" y1="705.90" x2="999.50" y2="710.70"/><line x1="1021.50" y1="705.90" x2="1021.50" y2="710.70"/><line x1="1044.50" y1="705.90" x2="1044.50" y2="710.70"/><line x1="1066.50" y1="705.90" x2="1066.50" y2="710.70"/><line x1="1088.50" y1="705.90" x2="1088.50" y2="710.70"/><line x1="1110.50" y1="705.90" x2="1110.50" y2="710.70"/><line x1="1132.50" y1="705.90" x2="1132.50" y2="710.70"/><line x1="1154.50" y1="705.90" x2="1154.50" y2="710.70"/><line x1="1176.50" y1="705.90" x2="1176.50" y2="710.70"/><line x1="1198.50" y1="705.90" x2="1198.50" y2="710.70"/><line x1="1221.50" y1="705.90" x2="1221.50" y2="710.70"/><line x1="1243.50" y1="705.90" x2="1243.50" y2="710.70"/><line x1="1265.50" y1="705.90" x2="1265.50" y2="710.70"/><line x1="1287.50" y1="705.90" x2="1287.50" y2="710.70"/><line x1="1309.50" y1="705.90" x2="1309.50" y2="710.70"/><line x1="1331.50" y1="705.90" x2="1331.50" y2="710.70"/><line x1="1353.50" y1="705.90" x2="1353.50" y2="710.70"/><line x1="1375.50" y1="705.90" x2="1375.50" y2="710.70"/><line x1="1398.50" y1="705.90" x2="1398.50" y2="710.70"/><line x1="1420.50" y1="705.90" x2="1420.50" y2="710.70"/><line x1="1442.50" y1="705.90" x2="1442.50" y2="710.70"/><line x1="1464.50" y1="705.90" x2="1464.50" y2="710.70"/><line x1="1486.50" y1="705.90" x2="1486.50" y2="710.70"/><line x1="1508.50" y1="705.90" x2="1508.50" y2="710.70"/><line x1="1530.50" y1="705.90" x2="1530.50" y2="710.70"/><line x1="1552.50" y1="705.90" x2="1552.50" y2="710.70"/><line x1="1575.50" y1="705.90" x2="1575.50" y2="710.70"/><line x1="1597.50" y1="705.90" x2="1597.50" y2="710.70"/><line x1="1619.50" y1="705.90" x2="1619.50" y2="710.70"/><line x1="1641.50" y1="705.90" x2="1641.50" y2="710.70"/><line x1="1663.50" y1="705.90" x2="1663.50" y2="710.70"/><line x1="1685.50" y1="705.90" x2="1685.50" y2="710.70"/><line x1="1707.50" y1="705.90" x2="1707.50" y2="710.70"/><line x1="1729.50" y1="705.90" x2="1729.50" y2="710.70"/><line x1="1752.50" y1="705.90" x2="1752.50" y2="710.70"/><line x1="1774.50" y1="705.90" x2="1774.50" y2="710.70"/><line x1="1796.50" y1="705.90" x2="1796.50" y2="710.70"/><line x1="1818.50" y1="705.90" x2="1818.50" y2="710.70"/><line x1="1840.50" y1="705.90" x2="1840.50" y2="710.70"/><line x1="1862.50" y1="705.90" x2="1862.50" y2="710.70"/><line x1="1884.50" y1="705.90" x2="1884.50" y2="710.70"/><line x1="1906.50" y1="705.90" x2="1906.50" y2="710.70"/><line x1="1929.50" y1="705.90" x2="1929.50" y2="710.70"/><line x1="1951.50" y1="705.90" x2="1951.50" y2="710.70"/><line x1="1973.50" y1="705.90" x2="1973.50" y2="710.70"/><line x1="1995.50" y1="705.90" x2="1995.50" y2="710.70"/><line x1="2017.50" y1="705.90" x2="2017.50" y2="710.70"/><line x1="2039.50" y1="705.90" x2="2039.50" y2="710.70"/><line x1="2061.50" y1="705.90" x2="2061.50" y2="710.70"/><line x1="2083.50" y1="705.90" x2="2083.50" y2="710.70"/><line x1="2106.50" y1="705.90" x2="2106.50" y2="710.70"/><line x1="2128.50" y1="705.90" x2="2128.50" y2="710.70"/><line x1="2150.50" y1="705.90" x2="2150.50" y2="710.70"/><line x1="2172.50" y1="705.90" x2="2172.50" y2="710.70"/><line x1="2194.50" y1="705.90" x2="2194.50" y2="710.70"/><line x1="2216.50" y1="705.90" x2="2216.50" y2="710.70"/><line x1="2238.50" y1="705.90" x2="2238.50" y2="710.70"/><line x1="2260.50" y1="705.90" x2="2260.50" y2="710.70"/><line x1="2283.50" y1="705.90" x2="2283.50" y2="710.70"/><line x1="2305.50" y1="705.90" x2="2305.50" y2="710.70"/><line x1="2327.50" y1="705.90" x2="2327.50" y2="710.70"/><line x1="2349.50" y1="705.90" x2="2349.50" y2="710.70"/><line x1="87.30" y1="643.50" x2="91.95" y2="643.50"/><line x1="87.30" y1="571.50" x2="91.95" y2="571.50"/><line x1="87.30" y1="499.50" x2="91.95" y2="499.50"/><line x1="87.30" y1="428.50" x2="91.95" y2="428.50"/><line x1="87.30" y1="356.50" x2="91.95" y2="356.50"/><line x1="87.30" y1="285.50" x2="91.95" y2="285.50"/><line x1="87.30" y1="213.50" x2="91.95" y2="213.50"/><line x1="87.30" y1="141.50" x2="91.95" y2="141.50"/>
</g>
<g fill="#555555" font-size="14.1" text-anchor="end">
<text x="81.7" y="648.90" textLength="42.5" lengthAdjust="spacingAndGlyphs">50000</text><text x="81.7" y="576.90" textLength="42.5" lengthAdjust="spacingAndGlyphs">55000</text><text x="81.7" y="504.90" textLength="42.5" lengthAdjust="spacingAndGlyphs">60000</text><text x="81.7" y="433.90" textLength="42.5" lengthAdjust="spacingAndGlyphs">65000</text><text x="81.7" y="361.90" textLength="42.5" lengthAdjust="spacingAndGlyphs">70000</text><text x="81.7" y="290.90" textLength="42.5" lengthAdjust="spacingAndGlyphs">75000</text><text x="81.7" y="218.90" textLength="42.5" lengthAdjust="spacingAndGlyphs">80000</text><text x="81.7" y="146.90" textLength="42.5" lengthAdjust="spacingAndGlyphs">85000</text>
</g>
<g fill="#555555" font-size="14.1">
<text transform="translate(95.20,861.2) rotate(-90)" textLength="145.4" lengthAdjust="spacingAndGlyphs">2022-11-11 19:08:44</text><text transform="translate(117.20,861.2) rotate(-90)" textLength="145.4" lengthAdjust="spacingAndGlyphs">2022-11-11 19:43:02</text><text transform="translate(139.20,861.2) rotate(-90)" textLength="145.4" lengthAdjust="spacingAndGlyphs">2022-11-11 20:18:01</text><text transform="translate(162.20,861.2) rotate(-90)" textLength="145.4" lengthAdjust="spacingAndGlyphs">2022-11-11 20:53:00</text><text transform="translate(184.20,861.2) rotate(-90)" textLength="145.4" lengthAdjust="spacingAndGlyphs">2022-11-11 21:28:04</text><text transform="translate(206.20,861.2) rotate(-90)" textLength="145.4" lengthAdjust="spacingAndGlyphs">2022-11-11 22:03:03</text><text transform="translate(228.20,861.2) rotate(-90)" textLength="145.4" lengthAdjust="spacingAndGlyphs">2022-11-11 22:38:03</text><text transform="translate(250.20,861.2) rotate(-90)" textLength="145.4" lengthAdjust="spacingAndGlyphs">2022-11-11 23:13:02</text><text transform="translate(272.20,861.2) rotate(-90)" textLength="145.4" lengthAdjust="spacingAndGlyphs">2022-11-11 23:48:03</text><text transform="translate(294.20,861.2) rotate(-90)" textLength="145.4" lengthAdjust="spacingAndGlyphs">2022-11-12 00:23:01</text><text transform="translate(316.20,861.2) rotate(-90)" textLength="145.4" lengthAdjust="spacingAndGlyphs">2022-11-12 00:58:04</text><text transform="translate(339.20,861.2) rotate(-90)" textLength="145.4" lengthAdjust="spacingAndGlyphs">2022-11-12 01:33:00</text><text transform="translate(361.20,861.2) rotate(-90)" textLength="145.4" lengthAdjust="spacingAndGlyphs">2022-11-12 02:08:03</text><text transform="translate(383.20,861.2) rotate(-90)" textLength="145.4" lengthAdjust="spacingAndGlyphs">2022-11-12 02:43:04</text><text transform="translate(405.20,861.2) rotate(-90)" textLength="145.4" lengthAdjust="spacingAndGlyphs">2022-11-12 03:18:04</text><text transform="translate(427.20,861.2) rotate(-90)" textLength="145.4" lengthAdjust="spacingAndGlyphs">2022-11-12 03:53:03</text><text transform="translate(449.20,861.2) rotate(-90)" textLength="145.4" lengthAdjust="spacingAndGlyphs">2022-11-12 04:28:01</text><text transform="translate(471.20,861.2) rotate(-90)" textLength="145.4" lengthAdjust="spacingAndGlyphs">2022-11-12 05:03:00</text><text transform="translate(493.20,861.2) rotate(-90)" textLength="145.4" lengthAdjust="spacingAndGlyphs">2022-11-12 05:38:04</text><text transform="translate(516.20,861.2) rotate(-90)" textLength="145.4" lengthAdjust="spacingAndGlyphs">2022-11-12 06:13:03</text><text transform="translate(538.20,861.2) rotate(-90)" textLength="145.4" lengthAdjust="spacingAndGlyphs">2022-11-12 06:48:03</text><text transform="translate(560.20,861.2) rotate(-90)" textLength="145.4" lengthAdjust="spacingAndGlyphs">2022-11-12 07:23:04</text><text transform="translate(582.20,861.2) rotate(-90)" textLength="145.4" lengthAdjust="spacingAndGlyphs">2022-11-12 07:58:04</text><text transform="translate(604.20,861.2) rotate(-90)" textLength="145.4" lengthAdjust="spacingAndGlyphs">2022-11-12 08:33:03</text><text transform="translate(626.20,861.2) rotate(-90)" textLength="145.4" lengthAdjust="spacingAndGlyphs">2022-11-12 09:08:05</text><text transform="translate(648.20,861.2) rotate(-90)" textLength="145.4" lengthAdjust="spacingAndGlyphs">2022-11-12 09:43:04</text><text transform="translate(670.20,861.2) rotate(-90)" textLength="145.4" lengthAdjust="spacingAndGlyphs">2022-11-12 10:18:03</text><text transform="translate(693.20,861.2) rotate(-90)" textLength="145.4" lengthAdjust="spacingAndGlyphs">2022-11-12 10:53:02</text><text transform="translate(715.20,861.2) rotate(-90)" textLength="145.4" lengthAdjust="spacingAndGlyphs">2022-11-12 11:28:02</text><text transform="translate(737.20,861.2) rotate(-90)" textLength="145.4" lengthAdjust="spacingAndGlyphs">2022-11-12 12:03:01</text><text transform="translate(759.20,861.2) rotate(-90)" textLength="145.4" lengthAdjust="spacingAndGlyphs">2022-11-12 12:38:01</text><text transform="translate(781.20,861.2) rotate(-90)" textLength="145.4" lengthAdjust="spacingAndGlyphs">2022-11-12 13:13:03</text><text transform="translate(803.20,861.2) rotate(-90)" textLength="145.4" lengthAdjust="spacingAndGlyphs">2022-11-12 13:48:04</text><text transform="translate(825.20,861.2) rotate(-90)" textLength="145.4" lengthAdjust="spacingAndGlyphs">2022-11-12 14:23:02</text><text transform="translate(847.20,861.2) rotate(-90)" textLength="145.4" lengthAdjust="spacingAndGlyphs">2022-11-12 14:58:03</text><text transform="translate(870.20,861.2) rotate(-90)" textLength="145.4" lengthAdjust="spacingAndGlyphs">2022-11-12 15:33:03</text><text transform="translate(892.20,861.2) rotate(-90)" textLength="145.4" lengthAdjust="spacingAndGlyphs">2022-11-12 16:08:00</text><text transform="translate(914.20,861.2) rotate(-90)" textLength="145.4" lengthAdjust="spacingAndGlyphs">2022-11-12 16:43:03</text><text transform="translate(936.20,861.2) rotate(-90)" textLength="145.4" lengthAdjust="spacingAndGlyphs">2022-11-12 17:18:04</text><text transform="translate(958.20,861.2) rotate(-90)" textLength="145.4" lengthAdjust="spacingAndGlyphs">2022-11-12 17:53:00</text><text transform="translate(980.20,861.2) rotate(-90)" textLength="145.4" lengthAdjust="spacingAndGlyphs">2022-11-12 18:28:04</text><text transform="translate(1002.20,861.2) rotate(-90)" textLength="145.4" lengthAdjust="spacingAndGlyphs">2022-11-12 19:03:00</text><text transform="translate(1024.20,861.2) rotate(-90)" textLength="145.4" lengthAdjust="spacingAndGlyphs">2022-11-12 19:38:04</text><text transform="translate(1047.20,861.2) rotate(-90)" textLength="145.4" lengthAdjust="spacingAndGlyphs">2022-11-12 20:13:04</text><text transform="translate(1069.20,861.2) rotate(-90)" textLength="145.4" lengthAdjust="spacingAndGlyphs">2022-11-12 20:48:03</text><text transform="translate(1091.20,861.2) rotate(-90)" textLength="145.4" lengthAdjust="spacingAndGlyphs">2022-11-12 21:23:04</text><text transform="translate(1113.20,861.2) rotate(-90)" textLength="145.4" lengthAdjust="spacingAndGlyphs">2022-11-12 21:58:01</text><text transform="translate(1135.20,861.2) rotate(-90)" textLength="145.4" lengthAdjust="spacingAndGlyphs">2022-11-12 22:33:01</text><text transform="translate(1157.20,861.2) rotate(-90)" textLength="145.4" lengthAdjust="spacingAndGlyphs">2022-11-12 23:08:02</text><text transform="translate(1179.20,861.2) rotate(-90)" textLength="145.4" lengthAdjust="spacingAndGlyphs">2022-11-12 23:43:01</text><text transform="translate(1201.20,861.2) rotate(-90)" textLength="145.4" lengthAdjust="spacingAndGlyphs">2022-11-13 00:18:01</text><text transform="translate(1224.20,861.2) rotate(-90)" textLength="145.4" lengthAdjust="spacingAndGlyphs">2022-11-13 00:53:02</text><text transform="translate(1246.20,861.2) rotate(-90)" textLength="145.4" lengthAdjust="spacingAndGlyphs">2022-11-13 01:28:02</text><text transform="translate(1268.20,861.2) rotate(-90)" textLength="145.4" lengthAdjust="spacingAndGlyphs">2022-11-13 02:03:03</text><text transform="translate(1290.20,861.2) rotate(-90)" textLength="145.4" lengthAdjust="spacingAndGlyphs">2022-11-13 02:38:03</text><text transform="translate(1312.20,861.2) rotate(-90)" textLength="145.4" lengthAdjust="spacingAndGlyphs">2022-11-13 03:13:03</text><text transform="translate(1334.20,861.2) rotate(-90)" textLength="145.4" lengthAdjust="spacingAndGlyphs">2022-11-13 03:48:03</text><text transform="translate(1356.20,861.2) rotate(-90)" textLength="145.4" lengthAdjust="spacingAndGlyphs">2022-11-13 04:23:03</text><text transform="translate(1378.20,861.2) rotate(-90)" textLength="145.4" lengthAdjust="spacingAndGlyphs">2022-11-13 04:58:02</text><text transform="translate(1401.20,861.2) rotate(-90)" textLength="145.4" lengthAdjust="spacingAndGlyphs">2022-11-13 05:33:02</text><text transform="translate(1423.20,861.2) rotate(-90)" textLength="145.4" lengthAdjust="spacingAndGlyphs">2022-11-13 06:08:02</text><text transform="translate(1445.20,861.2) rotate(-90)" textLength="145.4" lengthAdjust="spacingAndGlyphs">2022-11-13 06:43:02</text><text transform="translate(1467.20,861.2) rotate(-90)" textLength="145.4" lengthAdjust="spacingAndGlyphs">2022-11-13 07:18:04</text><text transform="translate(1489.20,861.2) rotate(-90)" textLength="145.4" lengthAdjust="spacingAndGlyphs">2022-11-13 07:53:00</text><text transform="translate(1511.20,861.2) rotate(-90)" textLength="145.4" lengthAdjust="spacingAndGlyphs">2022-11-13 08:28:00</text><text transform="translate(1533.20,861.2) rotate(-90)" textLength="145.4" lengthAdjust="spacingAndGlyphs">2022-11-13 09:03:00</text><text transform="translate(1555.20,861.2) rotate(-90)" textLength="145.4" lengthAdjust="spacingAndGlyphs">2022-11-13 09:38:04</text><text transform="translate(1578.20,861.2) rotate(-90)" textLength="145.4" lengthAdjust="spacingAndGlyphs">2022-11-13 10:13:03</text><text transform="translate(1600.20,861.2) rotate(-90)" textLength="145.4" lengthAdjust="spacingAndGlyphs">2022-11-13 10:48:04</text><text transform="translate(1622.20,861.2) rotate(-90)" textLength="145.4" lengthAdjust="spacingAndGlyphs">2022-11-13 11:23:05</text><text transform="translate(1644.20,861.2) rotate(-90)" textLength="145.4" lengthAdjust="spacingAndGlyphs">2022-11-13 11:58:04</text><text transform="translate(1666.20,861.2) rotate(-90)" textLength="145.4" lengthAdjust="spacingAndGlyphs">2022-11-13 12:33:01</text><text transform="translate(1688.20,861.2) rotate(-90)" textLength="145.4" lengthAdjust="spacingAndGlyphs">2022-11-13 13:08:04</text><text transform="translate(1710.20,861.2) rotate(-90)" textLength="145.4" lengthAdjust="spacingAndGlyphs">2022-11-13 13:43:03</text><text transform="translate(1732.20,861.2) rotate(-90)" textLength="145.4" lengthAdjust="spacingAndGlyphs">2022-11-13 14:18:03</text><text transform="translate(1755.20,861.2) rotate(-90)" textLength="145.4" lengthAdjust="spacingAndGlyphs">2022-11-13 14:53:02</text><text transform="translate(1777.20,861.2) rotate(-90)" textLength="145.4" lengthAdjust="spacingAndGlyphs">2022-11-13 15:28:01</text><text transform="translate(1799.20,861.2) rotate(-90)" textLength="145.4" lengthAdjust="spacingAndGlyphs">2022-11-13 16:03:01</text><text transform="translate(1821.20,861.2) rotate(-90)" textLength="145.4" lengthAdjust="spacingAndGlyphs">2022-11-13 16:38:04</text><text transform="translate(1843.20,861.2) rotate(-90)" textLength="145.4" lengthAdjust="spacingAndGlyphs">2022-11-13 17:13:01</text><text transform="translate(1865.20,861.2) rotate(-90)" textLength="145.4" lengthAdjust="spacingAndGlyphs">2022-11-13 17:48:01</text><text transform="translate(1887.20,861.2) rotate(-90)" textLength="145.4" lengthAdjust="spacingAndGlyphs">2022-11-13 18:23:04</text><text transform="translate(1909.20,861.2) rotate(-90)" textLength="145.4" lengthAdjust="spacingAndGlyphs">2022-11-13 18:58:03</text><text transform="translate(1932.20,861.2) rotate(-90)" textLength="145.4" lengthAdjust="spacingAndGlyphs">2022-11-13 19:33:02</text><text transform="translate(1954.20,861.2) rotate(-90)" textLength="145.4" lengthAdjust="spacingAndGlyphs">2022-11-13 20:08:00</text><text transform="translate(1976.20,861.2) rotate(-90)" textLength="145.4" lengthAdjust="spacingAndGlyphs">2022-11-13 20:43:03</text><text transform="translate(1998.20,861.2) rotate(-90)" textLength="145.4" lengthAdjust="spacingAndGlyphs">2022-11-13 21:18:01</text><text transform="translate(2020.20,861.2) rotate(-90)" textLength="145.4" lengthAdjust="spacingAndGlyphs">2022-11-13 21:53:04</text><text transform="translate(2042.20,861.2) rotate(-90)" textLength="145.4" lengthAdjust="spacingAndGlyphs">2022-11-13 22:28:03</text><text transform="translate(2064.20,861.2) rotate(-90)" textLength="145.4" lengthAdjust="spacingAndGlyphs">2022-11-13 23:03:01</text><text transform="translate(2086.20,861.2) rotate(-90)" textLength="145.4" lengthAdjust="spacingAndGlyphs">2022-11-13 23:38:05</text><text transform="translate(2109.20,861.2) rotate(-90)" textLength="145.4" lengthAdjust="spacingAndGlyphs">2022-11-14 00:13:03</text><text transform="translate(2131.20,861.2) rotate(-90)" textLength="145.4" lengthAdjust="spacingAndGlyphs">2022-11-14 00:48:02</text><text transform="translate(2153.20,861.2) rotate(-90)" textLength="145.4" lengthAdjust="spacingAndGlyphs">2022-11-14 01:23:00</text><text transform="translate(2175.20,861.2) rotate(-90)" textLength="145.4" lengthAdjust="spacingAndGlyphs">2022-11-14 01:58:03</text><text transform="translate(2197.20,861.2) rotate(-90)" textLength="145.4" lengthAdjust="spacingAndGlyphs">2022-11-14 02:33:03</text><text transform="translate(2219.20,861.2) rotate(-90)" textLength="145.4" lengthAdjust="spacingAndGlyphs">2022-11-14 03:08:03</text><text transform="translate(2241.20,861.2) rotate(-90)" textLength="145.4" lengthAdjust="spacingAndGlyphs">2022-11-14 03:43:02</text><text transform="translate(2263.20,861.2) rotate(-90)" textLength="145.4" lengthAdjust="spacingAndGlyphs">2022-11-14 04:18:00</text><text transform="translate(2286.20,861.2) rotate(-90)" textLength="145.4" lengthAdjust="spacingAndGlyphs">2022-11-14 04:53:04</text><text transform="translate(2308.20,861.2) rotate(-90)" textLength="145.4" lengthAdjust="spacingAndGlyphs">2022-11-14 05:28:02</text><text transform="translate(2330.20,861.2) rotate(-90)" textLength="145.4" lengthAdjust="spacingAndGlyphs">2022-11-14 06:03:01</text><text transform="translate(2352.20,861.2) rotate(-90)" textLength="145.4" lengthAdjust="spacingAndGlyphs">2022-11-14 06:38:00</text>
</g>
<text x="1185.0" y="880.8" fill="#555555" font-size="18" textLength="93" lengthAdjust="spacingAndGlyphs">Timestamp</text>
<text transform="translate(30.3,461.9) rotate(-90)" fill="#555555" font-size="18.4" textLength="107.3" lengthAdjust="spacingAndGlyphs">RSS_MAXMIN</text>
<g fill="#000000" font-size="20.6">
<text x="942.3" y="30.1" textLength="85.2" lengthAdjust="spacingAndGlyphs">Pipeline:</text><text x="1033.9" y="30.1" textLength="115.4" lengthAdjust="spacingAndGlyphs">Test_stress,</text><text x="1155.7" y="30.1" textLength="57.2" lengthAdjust="spacingAndGlyphs">Build:</text><text x="1219.3" y="30.1" textLength="57.5" lengthAdjust="spacingAndGlyphs">3655,</text><text x="1283.2" y="30.1" textLength="93.6" lengthAdjust="spacingAndGlyphs">Duration:</text><text x="1383.2" y="30.1" textLength="52.0" lengthAdjust="spacingAndGlyphs">3600</text><text x="1441.6" y="30.1" textLength="79.2" lengthAdjust="spacingAndGlyphs">minutes</text>
<text x="966.2" y="52.8" textLength="80.6" lengthAdjust="spacingAndGlyphs">Version:</text><text x="1053.2" y="52.8" textLength="70.6" lengthAdjust="spacingAndGlyphs">4.3.10,</text><text x="1130.2" y="52.8" textLength="89.8" lengthAdjust="spacingAndGlyphs">Revision:</text><text x="1226.4" y="52.8" textLength="69.7" lengthAdjust="spacingAndGlyphs">40323,</text><text x="1302.5" y="52.8" textLength="84.3" lengthAdjust="spacingAndGlyphs">Package</text><text x="1393.2" y="52.8" textLength="83.6" lengthAdjust="spacingAndGlyphs">revision:</text><text x="1483.2" y="52.8" textLength="10.8" lengthAdjust="spacingAndGlyphs">1</text>
<text x="479.6" y="74.6" textLength="89.5" lengthAdjust="spacingAndGlyphs">Modules:</text><text x="575.5" y="74.6" textLength="97.6" lengthAdjust="spacingAndGlyphs">syscheck,</text><text x="673.7" y="74.6" textLength="122.7" lengthAdjust="spacingAndGlyphs">logcollector,</text><text x="797.0" y="74.6" textLength="104.3" lengthAdjust="spacingAndGlyphs">rootcheck,</text><text x="901.9" y="74.6" textLength="39.8" lengthAdjust="spacingAndGlyphs">sca,</text><text x="942.3" y="74.6" textLength="165.2" lengthAdjust="spacingAndGlyphs">active-response,</text><text x="1108.1" y="74.6" textLength="124.2" lengthAdjust="spacingAndGlyphs">syscollector,</text><text x="1232.9" y="74.6" textLength="155.0" lengthAdjust="spacingAndGlyphs">docker-listener,</text><text x="1388.5" y="74.6" textLength="71.1" lengthAdjust="spacingAndGlyphs">cis-cat,</text><text x="1460.2" y="74.6" textLength="86.4" lengthAdjust="spacingAndGlyphs">osquery,</text><text x="1547.2" y="74.6" textLength="109.7" lengthAdjust="spacingAndGlyphs">azure-logs,</text><text x="1657.5" y="74.6" textLength="109.6" lengthAdjust="spacingAndGlyphs">open-scap,</text><text x="1767.7" y="74.6" textLength="216.5" lengthAdjust="spacingAndGlyphs">vulnerability-detector</text>
</g>
<rect x="2378.5" y="211.3" width="193.1" height="67.4" rx="2.8" ry="2.8" fill="#e5e5e5" fill-opacity="0.8" stroke="#cccccc" stroke-opacity="0.8" stroke-width="0.7"/>
<rect x="2378.5" y="292.3" width="207.2" height="47.1" rx="2.8" ry="2.8" fill="#e5e5e5" fill-opacity="0.8" stroke="#cccccc" stroke-opacity="0.8" stroke-width="0.7"/>
<rect x="2384.1" y="218.2" width="27.8" height="10.7" fill="#008000" fill-opacity="0.05"/>
<rect x="2384.1" y="239.2" width="27.8" height="10.7" fill="#ff0000" fill-opacity="0.05"/>
<rect x="2384.1" y="260.2" width="27.8" height="10.7" fill="#ffff00" fill-opacity="0.05"/>
<g fill="#000000" font-size="14.1">
<text x="2422.1" y="228.2" textLength="141.5" lengthAdjust="spacingAndGlyphs">Resources allocation</text>
<text x="2422.1" y="249.2" textLength="57" lengthAdjust="spacingAndGlyphs">Full load</text>
<text x="2422.1" y="270.2" textLength="124.5" lengthAdjust="spacingAndGlyphs">Resources release</text>
<text x="2423.5" y="309.0" textLength="155" lengthAdjust="spacingAndGlyphs">wazuh-agent.exe_MAX</text>
<text x="2423.5" y="330.0" textLength="150" lengthAdjust="spacingAndGlyphs">wazuh-agent.exe_MIN</text>
</g>
<line x1="2382.9" y1="303.9" x2="2412.1" y2="303.9" stroke="#54dada" stroke-width="2.08"/>
<line x1="2382.9" y1="325.0" x2="2412.1" y2="325.0" stroke="#d95656" stroke-width="2.08"/>
</svg>
</body></html>
